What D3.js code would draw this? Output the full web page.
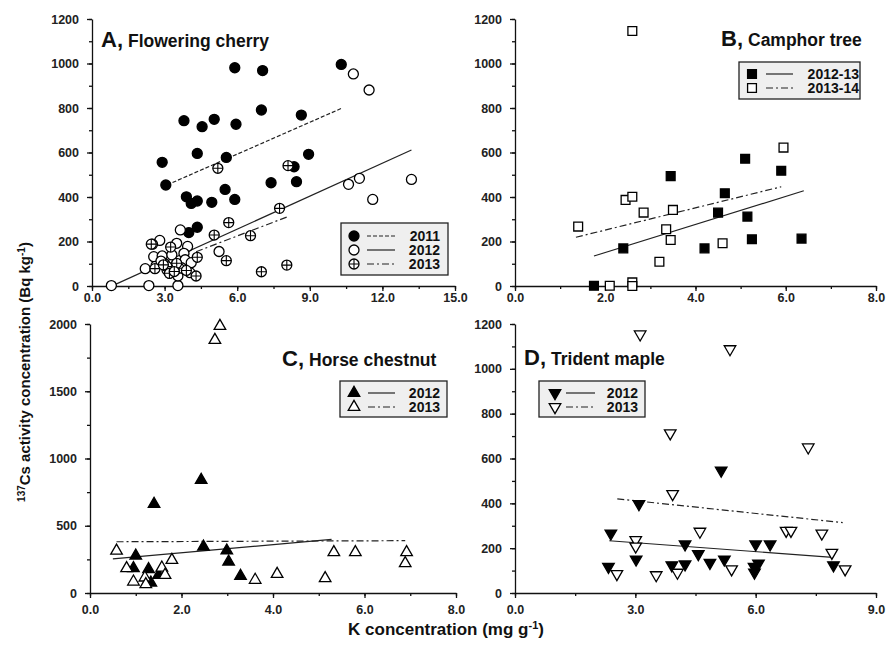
<!DOCTYPE html>
<html>
<head>
<meta charset="utf-8">
<script src="https://cdn.jsdelivr.net/npm/d3@7/dist/d3.min.js"></script>
<style>
  body { margin: 0; background: #fff; }
  svg { font-family: "Liberation Sans", Arial, sans-serif; }
  .tick text { font-size: 12.5px; font-weight: bold; fill: #222; }
</style>
</head>
<body>
<svg id="chart" width="887" height="646"></svg>
<script>
// ---- data: [K concentration (mg/g), 137Cs (Bq/kg)] ----
const cherry2011 = [[5.9,981],[7.05,968],[10.3,996],[7.0,791],[8.65,768],[3.8,743],[5.05,749],[4.55,716],[5.95,727],[8.95,592],[2.9,556],[3.05,454],[4.35,596],[5.55,578],[8.35,536],[7.4,464],[8.45,469],[3.9,401],[4.1,371],[4.35,382],[4.95,376],[5.5,434],[5.9,389],[4.35,264],[4.0,240]];
const cherry2012 = [[0.8,2],[2.35,2],[3.55,2],[2.2,78],[2.65,92],[2.55,132],[2.9,135],[2.8,205],[2.5,188],[3.65,252],[3.5,192],[3.95,178],[3.3,140],[3.8,147],[3.85,118],[3.2,57],[3.55,45],[4.05,60],[3.0,100],[3.4,88],[3.1,72],[2.85,112],[3.7,82],[4.1,105],[5.25,155],[10.6,457],[11.05,484],[13.2,479],[11.6,389],[10.8,953],[11.45,881]];
const cherry2013 = [[5.2,529],[8.1,541],[7.75,349],[5.65,285],[5.05,229],[6.55,226],[4.35,129],[5.55,114],[7.0,64],[8.05,94],[4.3,45],[2.45,188],[3.25,175],[3.1,87],[3.6,80],[2.6,78],[3.2,57],[3.5,102],[3.9,70],[2.95,95],[3.4,65]];
const cherryFit2011 = [[3.1,454],[10.3,798]];
const cherryFit2012 = [[0.9,4],[13.2,611]];
const cherryFit2013 = [[4.3,154],[8.1,312]];

const camphor1213 = [[1.75,1],[2.4,169],[3.45,494],[4.2,169],[4.5,330],[4.65,417],[5.1,572],[5.15,312],[5.25,210],[5.9,518],[6.35,213]];
const camphor1314 = [[2.6,1146],[1.4,267],[2.1,1],[2.45,387],[2.6,401],[2.6,16],[2.6,0],[2.85,330],[3.2,109],[3.35,255],[3.5,342],[3.45,207],[4.6,192],[5.95,622]];
const camphorFit1213 = [[1.75,135],[6.4,428]];
const camphorFit1314 = [[1.35,219],[5.9,446]];

const chestnut2012 = [[1.4,662],[2.43,840],[2.48,344],[2.99,315],[3.03,233],[1.0,277],[0.95,184],[1.28,176],[1.5,134],[1.33,77],[3.29,127]];
const chestnut2013 = [[2.84,1985],[2.73,1881],[0.58,314],[0.8,184],[0.95,84],[1.2,114],[1.22,65],[1.57,188],[1.64,134],[1.79,245],[3.61,97],[4.09,141],[5.14,109],[5.33,303],[5.8,303],[6.92,303],[6.89,221]];
const chestnutFit2012 = [[0.5,253],[5.28,399]];
const chestnutFit2013 = [[0.58,381],[6.89,389]];

const maple2012 = [[2.39,266],[2.33,117],[3.09,397],[3.02,150],[3.91,124],[4.24,217],[4.24,128],[4.57,174],[4.86,135],[5.14,546],[5.22,150],[6.0,217],[6.36,217],[5.96,117],[5.97,91],[6.07,132],[7.94,124]];
const maple2013 = [[3.12,1154],[5.36,1088],[3.87,713],[3.93,442],[7.31,650],[4.61,274],[6.76,278],[6.88,278],[7.65,266],[3.01,237],[3.01,208],[2.54,85],[3.52,80],[4.05,91],[5.4,106],[7.9,180],[8.23,106]];
const mapleFit2012 = [[2.35,233],[7.92,159]];
const mapleFit2013 = [[2.55,420],[8.17,314]];

// tick values
const xTicksA = [0, 3, 6, 9, 12, 15];
const xTicksB = [0, 2, 4, 6, 8];
const xTicksC = [0, 2, 4, 6, 8];
const xTicksD = [0, 3, 6, 9];
const yTicks1200 = [0, 200, 400, 600, 800, 1000, 1200];
const yTicks2000 = [0, 500, 1000, 1500, 2000];

const svg = d3.select('#chart');
const DASHED = '4,2';
const DASHDOT = '7,3,2,3';

// draw one marker of a given kind at (cx, cy)
function drawMarker(g, kind, cx, cy) {
  const filled = kind.endsWith('filled');
  const fill = filled ? '#000' : '#fff';
  if (kind.startsWith('circle') || kind === 'cross') {
    g.append('circle').attr('cx', cx).attr('cy', cy).attr('r', 5)
      .attr('fill', fill).attr('stroke', '#000').attr('stroke-width', 1.3);
    if (kind === 'cross') {
      g.append('path')
        .attr('d', `M${cx-5},${cy}H${cx+5}M${cx},${cy-5}V${cy+5}`)
        .attr('stroke', '#000').attr('stroke-width', 1.1);
    }
  } else {
    let type = d3.symbolSquare, size = 78, rot = 0;
    if (kind.startsWith('tri')) { type = d3.symbolTriangle; size = 58; }
    if (kind.startsWith('tridown')) rot = 180;
    g.append('path')
      .attr('d', d3.symbol().type(type).size(size)())
      .attr('transform', `translate(${cx},${cy}) rotate(${rot})`)
      .attr('fill', fill).attr('stroke', '#000').attr('stroke-width', 1.3);
  }
}

function panel(cfg) {
  const x = d3.scaleLinear().domain(cfg.xDomain).range([cfg.left, cfg.right]);
  const y = d3.scaleLinear().domain(cfg.yDomain).range([cfg.bottom, cfg.top]);
  const g = svg.append('g');
  const fmt = d3.format('.1f');

  // minor ticks
  const minorX = d3.range(cfg.xDomain[0], cfg.xDomain[1] + 1e-9, cfg.xMinor);
  const minorY = d3.range(cfg.yDomain[0], cfg.yDomain[1] + 1e-9, cfg.yMinor);
  g.append('g').attr('transform', `translate(0,${cfg.bottom})`)
    .call(d3.axisBottom(x).tickValues(minorX).tickSize(3).tickFormat('').tickSizeOuter(0))
    .call(a => a.select('.domain').remove());
  g.append('g').attr('transform', `translate(${cfg.left},0)`)
    .call(d3.axisLeft(y).tickValues(minorY).tickSize(3).tickFormat('').tickSizeOuter(0))
    .call(a => a.select('.domain').remove());

  // major axes
  g.append('g').attr('transform', `translate(0,${cfg.bottom})`)
    .call(d3.axisBottom(x).tickValues(cfg.xTicks).tickSize(5).tickPadding(cfg.xPad)
      .tickFormat(fmt).tickSizeOuter(0));
  g.append('g').attr('transform', `translate(${cfg.left},0)`)
    .call(d3.axisLeft(y).tickValues(cfg.yTicks).tickSize(5).tickPadding(8)
      .tickFormat(d3.format('d')).tickSizeOuter(0));
  g.selectAll('.domain, .tick line').attr('stroke', '#111').attr('stroke-width', 1.3);

  // regression lines
  const line = d3.line().x(d => x(d[0])).y(d => y(d[1]));
  cfg.fits.forEach(f => {
    g.append('path').attr('d', line(f.data)).attr('fill', 'none')
      .attr('stroke', '#222').attr('stroke-width', 1.2)
      .attr('stroke-dasharray', f.dash || null);
  });

  // points
  cfg.series.forEach(s => {
    const sg = g.append('g');
    s.data.forEach(d => drawMarker(sg, s.marker, x(d[0]), y(d[1])));
  });

  // title
  const t = g.append('text').attr('x', cfg.title.x).attr('y', cfg.title.y)
    .attr('font-weight', 'bold').attr('fill', '#111');
  t.append('tspan').attr('font-size', 22).text(cfg.title.letter + ',');
  t.append('tspan').attr('font-size', 17.5).attr('dx', 5).text(cfg.title.name);

  // legend
  const L = cfg.legend;
  g.append('rect').attr('x', L.x).attr('y', L.y).attr('width', L.w).attr('height', L.h)
    .attr('fill', '#efefef').attr('stroke', '#222').attr('stroke-width', 1.3);
  cfg.series.forEach((s, i) => {
    const ry = L.y + L.first + i * L.step;
    drawMarker(g, s.marker, L.x + L.mx, ry);
    g.append('line').attr('x1', L.x + L.l1).attr('x2', L.x + L.l2)
      .attr('y1', ry).attr('y2', ry).attr('stroke', '#222').attr('stroke-width', 1.2)
      .attr('stroke-dasharray', cfg.fits[i].dash || null);
    g.append('text').attr('x', L.x + L.tx).attr('y', ry + 5)
      .attr('text-anchor', 'end').attr('font-size', 14).attr('font-weight', 'bold')
      .attr('fill', '#111').text(s.label);
  });
}

panel({
  left: 92, right: 455, top: 19, bottom: 286,
  xDomain: [0, 15], yDomain: [0, 1200], xTicks: xTicksA, yTicks: yTicks1200,
  xMinor: 1.5, yMinor: 100, xPad: 2,
  series: [
    { label: '2011', marker: 'circle-filled', data: cherry2011 },
    { label: '2012', marker: 'circle-open', data: cherry2012 },
    { label: '2013', marker: 'cross', data: cherry2013 }
  ],
  fits: [
    { data: cherryFit2011, dash: DASHED },
    { data: cherryFit2012 },
    { data: cherryFit2013, dash: DASHDOT }
  ],
  title: { letter: 'A', name: 'Flowering cherry', x: 101, y: 47 },
  legend: { x: 341, y: 223, w: 107, h: 52, first: 13, step: 14, mx: 13, l1: 26, l2: 54, tx: 99 }
});

panel({
  left: 515, right: 876, top: 19, bottom: 286,
  xDomain: [0, 8], yDomain: [0, 1200], xTicks: xTicksB, yTicks: yTicks1200,
  xMinor: 1, yMinor: 100, xPad: 2,
  series: [
    { label: '2012-13', marker: 'square-filled', data: camphor1213 },
    { label: '2013-14', marker: 'square-open', data: camphor1314 }
  ],
  fits: [
    { data: camphorFit1213 },
    { data: camphorFit1314, dash: DASHDOT }
  ],
  title: { letter: 'B', name: 'Camphor tree', x: 721, y: 46 },
  legend: { x: 739, y: 62, w: 121, h: 37, first: 12, step: 14, mx: 13, l1: 27, l2: 54, tx: 120 }
});

panel({
  left: 90, right: 456, top: 324, bottom: 593,
  xDomain: [0, 8], yDomain: [0, 2000], xTicks: xTicksC, yTicks: yTicks2000,
  xMinor: 1, yMinor: 250, xPad: 7,
  series: [
    { label: '2012', marker: 'tri-filled', data: chestnut2012 },
    { label: '2013', marker: 'tri-open', data: chestnut2013 }
  ],
  fits: [
    { data: chestnutFit2012 },
    { data: chestnutFit2013, dash: DASHDOT }
  ],
  title: { letter: 'C', name: 'Horse chestnut', x: 282, y: 366 },
  legend: { x: 340, y: 381, w: 107, h: 36, first: 12, step: 14, mx: 14, l1: 28, l2: 55, tx: 100 }
});

panel({
  left: 515, right: 876, top: 324, bottom: 593,
  xDomain: [0, 9], yDomain: [0, 1200], xTicks: xTicksD, yTicks: yTicks1200,
  xMinor: 1.5, yMinor: 100, xPad: 7,
  series: [
    { label: '2012', marker: 'tridown-filled', data: maple2012 },
    { label: '2013', marker: 'tridown-open', data: maple2013 }
  ],
  fits: [
    { data: mapleFit2012 },
    { data: mapleFit2013, dash: DASHDOT }
  ],
  title: { letter: 'D', name: 'Trident maple', x: 524, y: 365 },
  legend: { x: 539, y: 381, w: 106, h: 36, first: 12, step: 14, mx: 16, l1: 27, l2: 56, tx: 99 }
});

// shared axis titles
const yl = svg.append('text')
  .attr('transform', 'translate(30,372) rotate(-90)')
  .attr('text-anchor', 'middle').attr('font-size', 15).attr('font-weight', 'bold').attr('fill', '#111');
yl.append('tspan').attr('font-size', 10).attr('baseline-shift', 'super').text('137');
yl.append('tspan').text('Cs activity concentration (Bq kg');
yl.append('tspan').attr('font-size', 10).attr('baseline-shift', 'super').text('-1');
yl.append('tspan').text(')');

const xl = svg.append('text')
  .attr('x', 446).attr('y', 635)
  .attr('text-anchor', 'middle').attr('font-size', 17).attr('font-weight', 'bold').attr('fill', '#111');
xl.append('tspan').text('K concentration (mg g');
xl.append('tspan').attr('font-size', 11).attr('baseline-shift', 'super').text('-1');
xl.append('tspan').text(')');
</script>
</body>
</html>
